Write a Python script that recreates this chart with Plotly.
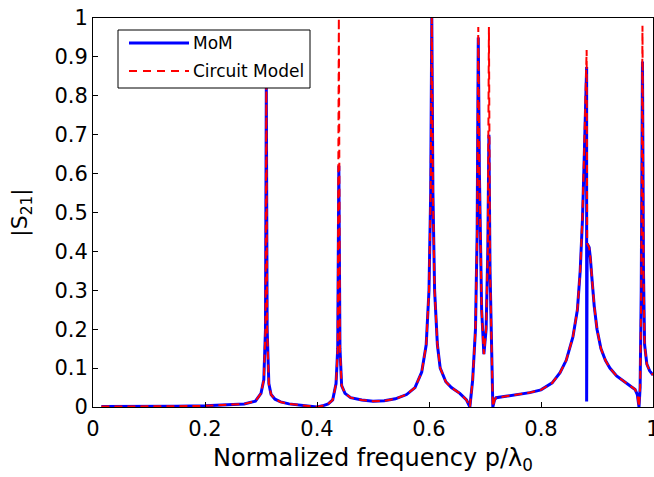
import plotly.graph_objects as go

# ---- data ----
mom_x = [0.015, 0.05, 0.10, 0.15, 0.20, 0.24, 0.27, 0.29, 0.300, 0.305, 0.308, 0.3095, 0.311, 0.314,
         0.318, 0.325, 0.335, 0.35, 0.37, 0.39, 0.40, 0.41, 0.42, 0.428, 0.434, 0.437, 0.439, 0.441,
         0.444, 0.45, 0.46, 0.48, 0.50, 0.52, 0.54, 0.56, 0.575, 0.587, 0.595, 0.600, 0.603, 0.605,
         0.607, 0.610, 0.615, 0.62, 0.63, 0.64, 0.655, 0.667, 0.673, 0.678, 0.683, 0.686, 0.688,
         0.690, 0.694, 0.698, 0.702, 0.705, 0.707, 0.709, 0.712, 0.714, 0.717, 0.72, 0.74, 0.76,
         0.78, 0.80, 0.82, 0.834, 0.845, 0.857, 0.865, 0.870, 0.874, 0.877, 0.8795, 0.8815, 0.8815,
         0.8825, 0.886, 0.888, 0.891, 0.895, 0.900, 0.907, 0.915, 0.923, 0.935, 0.947, 0.96, 0.968,
         0.972, 0.975, 0.977, 0.979, 0.9812, 0.983, 0.985, 0.989, 0.994, 1.0]
mom_y = [0.001, 0.001, 0.001, 0.002, 0.003, 0.005, 0.008, 0.015, 0.035, 0.07, 0.2, 0.82, 0.2, 0.06,
         0.032, 0.02, 0.013, 0.008, 0.005, 0.002, 0.0, 0.003, 0.008, 0.018, 0.06, 0.15, 0.62, 0.15,
         0.055, 0.035, 0.024, 0.018, 0.015, 0.016, 0.021, 0.032, 0.05, 0.09, 0.16, 0.3, 0.55, 1.0,
         0.55, 0.3, 0.16, 0.1, 0.065, 0.05, 0.035, 0.018, 0.0, 0.07, 0.2, 0.45, 0.95,
         0.6, 0.25, 0.136, 0.2, 0.4, 0.70, 0.35, 0.08, 0.0, 0.018, 0.024, 0.028, 0.032,
         0.037, 0.044, 0.062, 0.088, 0.12, 0.18, 0.25, 0.35, 0.48, 0.63, 0.80, 0.874, 0.014,
         0.42, 0.41, 0.385, 0.33, 0.26, 0.2, 0.15, 0.12, 0.1, 0.08, 0.067, 0.055, 0.045,
         0.032, 0.0, 0.05, 0.3, 0.888, 0.35, 0.16, 0.11, 0.093, 0.082]

cm_x = [0.015, 0.05, 0.10, 0.15, 0.20, 0.24, 0.27, 0.29, 0.300, 0.305, 0.308, 0.3095, 0.311, 0.314,
        0.318, 0.325, 0.335, 0.35, 0.37, 0.39, 0.40, 0.41, 0.42, 0.428, 0.434, 0.437, 0.439, 0.441,
        0.444, 0.45, 0.46, 0.48, 0.50, 0.52, 0.54, 0.56, 0.575, 0.587, 0.595, 0.600, 0.603, 0.605,
        0.607, 0.610, 0.615, 0.62, 0.63, 0.64, 0.655, 0.667, 0.673, 0.678, 0.683, 0.686, 0.688,
        0.690, 0.694, 0.698, 0.702, 0.705, 0.707, 0.709, 0.712, 0.714, 0.717, 0.72, 0.74, 0.76,
        0.78, 0.80, 0.82, 0.834, 0.845, 0.857, 0.865, 0.870, 0.874, 0.877, 0.8795, 0.8815,
        0.8825, 0.886, 0.888, 0.891, 0.895, 0.900, 0.907, 0.915, 0.923, 0.935, 0.947, 0.96, 0.968,
        0.972, 0.975, 0.977, 0.979, 0.9812, 0.983, 0.985, 0.989, 0.994, 1.0]
cm_y = [0.001, 0.001, 0.001, 0.002, 0.003, 0.005, 0.008, 0.015, 0.035, 0.07, 0.2, 0.83, 0.2, 0.06,
        0.032, 0.02, 0.013, 0.008, 0.005, 0.002, 0.0, 0.003, 0.008, 0.018, 0.06, 0.15, 1.0, 0.15,
        0.055, 0.035, 0.024, 0.018, 0.015, 0.016, 0.021, 0.032, 0.05, 0.09, 0.16, 0.3, 0.55, 1.0,
        0.55, 0.3, 0.16, 0.1, 0.065, 0.05, 0.035, 0.018, 0.0, 0.07, 0.2, 0.45, 0.977,
        0.6, 0.25, 0.136, 0.2, 0.4, 0.977, 0.35, 0.08, 0.0, 0.018, 0.024, 0.028, 0.032,
        0.037, 0.044, 0.062, 0.088, 0.12, 0.18, 0.25, 0.35, 0.49, 0.65, 0.84, 0.918,
        0.42, 0.41, 0.385, 0.33, 0.26, 0.2, 0.15, 0.12, 0.1, 0.08, 0.067, 0.055, 0.045,
        0.032, 0.0, 0.05, 0.3, 0.98, 0.35, 0.16, 0.11, 0.093, 0.082]

series_names = ["MoM", "Circuit Model"]
x_ticks = [0, 0.2, 0.4, 0.6, 0.8, 1.0]
x_tick_labels = ["0", "0.2", "0.4", "0.6", "0.8", "1"]
y_ticks = [0, 0.1, 0.2, 0.3, 0.4, 0.5, 0.6, 0.7, 0.8, 0.9, 1.0]
y_tick_labels = ["0", "0.1", "0.2", "0.3", "0.4", "0.5", "0.6", "0.7", "0.8", "0.9", "1"]

FONT = "DejaVu Sans"
W, H = 654, 477
ML, MR, MT, MB = 93, 1, 18, 70
PW, PH = W - ML - MR, H - MT - MB

BLUE = "#0000ff"
RED = "#ff0000"
RED_DASH = "8px,5px"


def px_x(p):
    return (p - ML) / PW


def px_y(p):
    return (H - MB - p) / PH


fig = go.Figure()
fig.add_trace(go.Scatter(x=mom_x, y=mom_y, mode="lines", name=series_names[0],
                         line=dict(color=BLUE, width=3), showlegend=False))
fig.add_trace(go.Scatter(x=cm_x, y=cm_y, mode="lines", name=series_names[1],
                         line=dict(color=RED, width=2, dash=RED_DASH), showlegend=False))

# legend drawn by hand (box, line samples, labels)
shapes = [
    dict(type="rect", xref="paper", yref="paper", x0=px_x(118), x1=px_x(310),
         y0=px_y(88), y1=px_y(30), line=dict(color="black", width=1), fillcolor="white",
         layer="above"),
    dict(type="line", xref="paper", yref="paper", x0=px_x(129), x1=px_x(189),
         y0=px_y(43), y1=px_y(43), line=dict(color=BLUE, width=3), layer="above"),
    dict(type="line", xref="paper", yref="paper", x0=px_x(129), x1=px_x(189),
         y0=px_y(71), y1=px_y(71), line=dict(color=RED, width=2, dash="8px,6px"), layer="above"),
]
annotations = [
    dict(xref="paper", yref="paper", x=px_x(191), y=px_y(43), xanchor="left", yanchor="middle",
         text=series_names[0], showarrow=False, font=dict(family=FONT, size=17, color="black")),
    dict(xref="paper", yref="paper", x=px_x(191), y=px_y(71), xanchor="left", yanchor="middle",
         text=series_names[1], showarrow=False, font=dict(family=FONT, size=17, color="black")),
]

axis_common = dict(showline=True, linecolor="black", linewidth=1, mirror=True,
                   ticks="inside", ticklen=5, tickcolor="black", showgrid=False,
                   zeroline=False, tickfont=dict(family=FONT, size=21, color="black"),
                   ticklabeloverflow="allow", automargin=False)

fig.update_layout(
    width=W, height=H,
    margin=dict(l=ML, r=MR, t=MT, b=MB, autoexpand=False),
    paper_bgcolor="white", plot_bgcolor="white",
    font=dict(family=FONT, color="black"),
    xaxis=dict(range=[0, 1], tickvals=x_ticks, ticktext=x_tick_labels, ticklabelstandoff=3,
               title=dict(text="Normalized frequency p/λ<sub>0</sub>",
                          font=dict(family=FONT, size=24), standoff=8),
               **axis_common),
    yaxis=dict(range=[0, 1], tickvals=y_ticks, ticktext=y_tick_labels,
               title=dict(text="|S<sub>21</sub>|", font=dict(family=FONT, size=22), standoff=20),
               **axis_common),
    shapes=shapes,
    annotations=annotations,
    showlegend=False,
)

fig.write_html("out.html")
